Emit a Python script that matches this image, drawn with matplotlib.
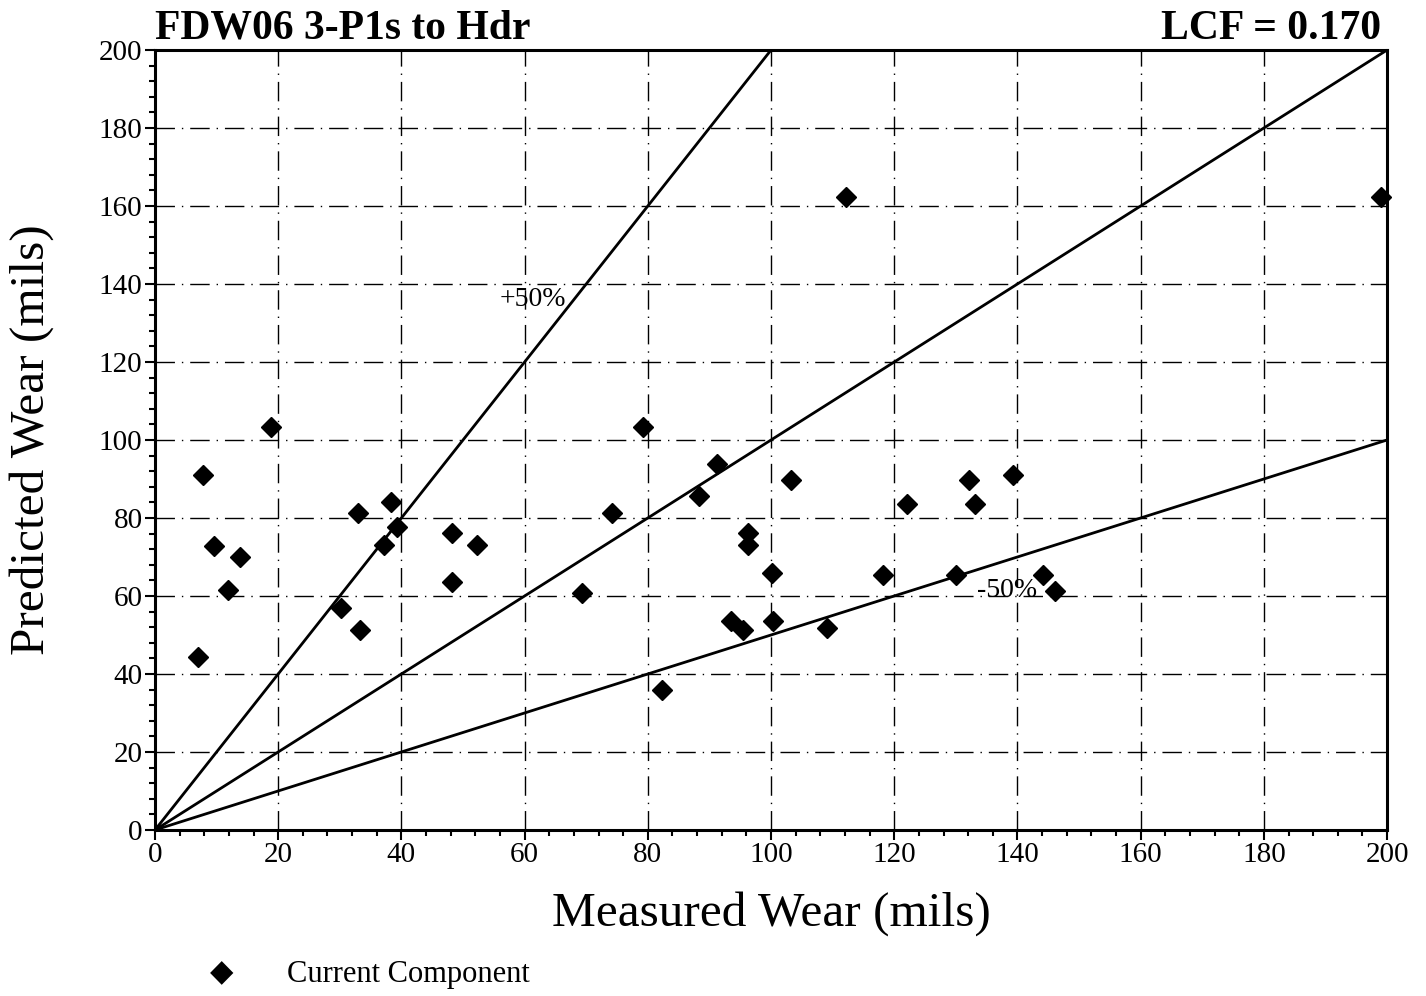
import matplotlib.pyplot as plt
from matplotlib.ticker import MultipleLocator

# Measured vs predicted wear (mils)
measured = [7.0, 7.8, 9.6, 11.9, 13.8, 18.8, 30.2, 33.0, 33.3, 37.2, 38.3, 39.3,
            48.2, 48.2, 52.3, 69.3, 74.2, 79.2, 82.3, 88.3, 91.2, 93.5, 95.5,
            96.3, 96.3, 100.2, 100.3, 103.2, 109.1, 112.2, 118.2, 122.1, 130.0,
            132.1, 133.1, 139.3, 144.2, 146.1, 199.0]
predicted = [44.4, 91.0, 72.8, 61.5, 70.0, 103.3, 56.9, 81.3, 51.3, 73.0, 84.0, 77.7,
             76.2, 63.6, 73.0, 60.8, 81.3, 103.3, 35.9, 85.6, 93.8, 53.6, 51.3,
             76.2, 73.0, 65.9, 53.6, 89.7, 51.8, 162.3, 65.4, 83.6, 65.4,
             89.7, 83.6, 91.0, 65.4, 61.3, 162.3]

ref_x = [0, 200]
ref_slopes = [2.0, 1.0, 0.5]   # +50%, 1:1, -50%
ticks = list(range(0, 201, 20))

title = "FDW06 3-P1s to Hdr"
lcf_text = "LCF = 0.170"

serif = "Liberation Serif"

fig = plt.figure(figsize=(14.26, 9.96), dpi=100)
ax = fig.add_axes([0.1087, 0.1667, 0.864, 0.7831])

# grid lines, dash-dot style like the scan
for t in ticks[1:-1]:
    ax.axhline(t, color="black", lw=1.0, ls=(0, (14, 5, 1, 5)), zorder=1)
    ax.axvline(t, color="black", lw=1.0, ls=(0, (14, 5, 1, 5)), zorder=1)

# reference lines
for s in ref_slopes:
    ax.plot(ref_x, [s * x for x in ref_x], color="black", lw=2.0, zorder=2)

ax.plot(measured, predicted, "D", color="black", ms=10, zorder=3, clip_on=False)

ax.set_xlim(0, 200)
ax.set_ylim(0, 200)
ax.set_xticks(ticks)
ax.set_yticks(ticks)
ax.xaxis.set_minor_locator(MultipleLocator(4))
ax.yaxis.set_minor_locator(MultipleLocator(4))
ax.tick_params(which="major", direction="out", length=7, width=1.5, labelsize=21, pad=2)
ax.tick_params(which="minor", direction="out", length=4, width=1.5)
for lbl in ax.get_xticklabels() + ax.get_yticklabels():
    lbl.set_fontfamily(serif)
for sp in ax.spines.values():
    sp.set_linewidth(2.2)

ax.set_xlabel("Measured Wear (mils)", fontsize=35.5, fontfamily=serif, labelpad=16)
ax.set_ylabel("Predicted Wear (mils)", fontsize=35.5, fontfamily=serif, labelpad=32)

ax.text(0.0, 1.003, title, transform=ax.transAxes, fontsize=30, fontweight="bold",
        fontfamily=serif, ha="left", va="bottom")
ax.text(0.995, 1.003, lcf_text, transform=ax.transAxes, fontsize=30, fontweight="bold",
        fontfamily=serif, ha="right", va="bottom")

ax.text(56, 136, "+50%", fontsize=20, fontfamily=serif, ha="left", va="center")
ax.text(133.5, 61.5, "-50%", fontsize=20, fontfamily=serif, ha="left", va="center")

# legend below the plot
fig.text(0.1557, 0.0231, "\u25c6", fontsize=22, ha="center", va="center", family="DejaVu Sans")
fig.text(0.2013, 0.0211, "Current Component", fontsize=22, fontfamily=serif,
         ha="left", va="center")

fig.savefig("out.png", dpi=100)
